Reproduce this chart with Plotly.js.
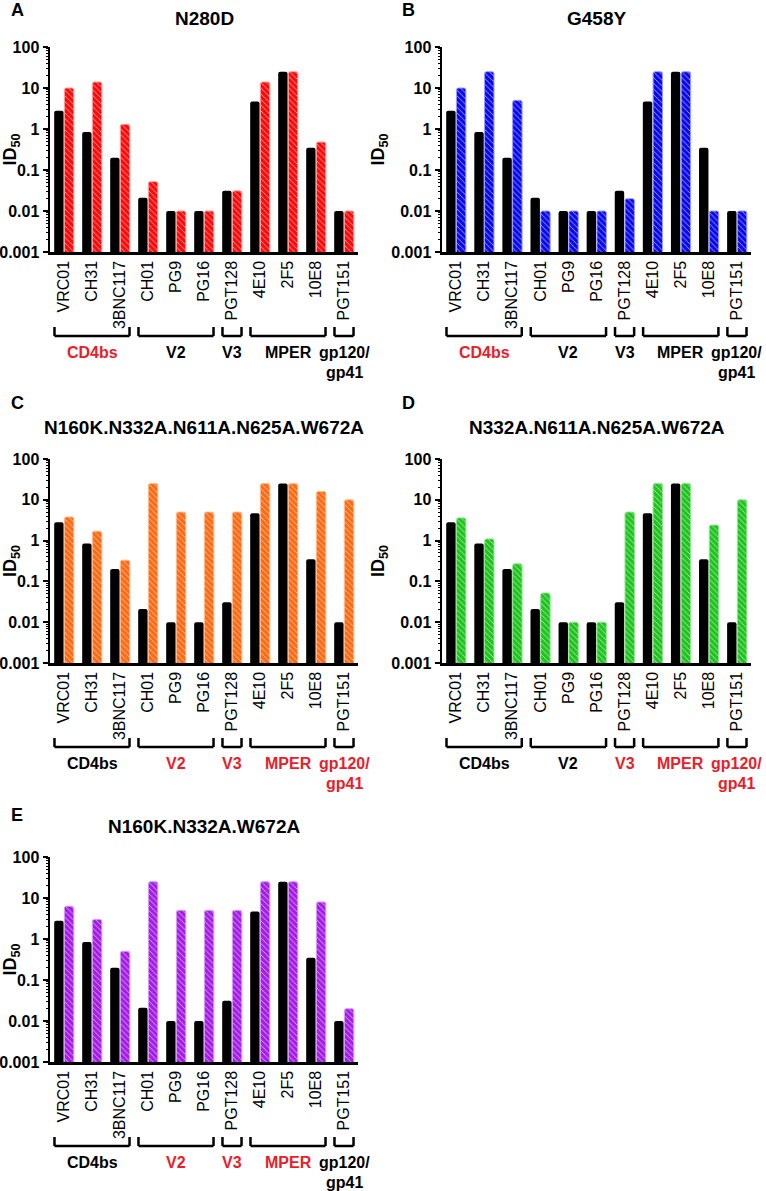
<!DOCTYPE html>
<html>
<head>
<meta charset="utf-8">
<script src="https://cdn.plot.ly/plotly-3.0.1.min.js"></script>
<style>html,body{margin:0;padding:0;background:#fff;}#chart{width:766px;height:1191px;}</style>
</head>
<body>
<div id="chart"></div>
<script>
// ---------- data ----------
const categories = ["VRC01","CH31","3BNC117","CH01","PG9","PG16","PGT128","4E10","2F5","10E8","PGT151"];
const wildTypeID50 = [2.8, 0.85, 0.2, 0.021, 0.01, 0.01, 0.031, 4.7, 25, 0.35, 0.01];
const mutantN280D = [10, 14, 1.3, 0.052, 0.01, 0.01, 0.031, 14, 25, 0.48, 0.01];
const mutantG458Y = [10, 25, 5, 0.01, 0.01, 0.01, 0.02, 25, 25, 0.01, 0.01];
const mutantC = [3.8, 1.7, 0.33, 25, 5, 5, 5, 25, 25, 16, 10];
const mutantD = [3.6, 1.1, 0.27, 0.052, 0.01, 0.01, 5, 25, 25, 2.4, 10];
const mutantE = [6.3, 3.0, 0.5, 25, 5, 5, 5, 25, 25, 8, 0.02];
const panelTitles = ["N280D","G458Y","N160K.N332A.N611A.N625A.W672A","N332A.N611A.N625A.W672A","N160K.N332A.W672A"];
const panelLetters = ["A","B","C","D","E"];
const groupNames = ["CD4bs","V2","V3","MPER","gp120/<br>gp41"];
const groupFirst = [0, 3, 6, 7, 10];
const groupLast = [2, 5, 6, 9, 10];
const groupHighlighted = [[1,0,0,0,0],[1,0,0,0,0],[0,1,1,1,1],[0,0,1,1,1],[0,1,1,1,0]];

const mutantSeries = [mutantN280D, mutantG458Y, mutantC, mutantD, mutantE];

// ---------- styles / layout ----------
const W = 766, H = 1191;
const FONT = "Liberation Sans, Arial, sans-serif";
const fillColors = ["#ff0a0a","#0a0af0","#ff6a14","#1fc41f","#a41ee8"];
const edgeColors = ["#ff9a9a","#9a9aff","#ffb88a","#8fe48f","#d79af5"];
const RED = "#e8202a";
const panels = [
  {x0:50,  x1:358, yTop:47,  yBot:252, titleY:18,  letterY:10},
  {x0:442, x1:751, yTop:47,  yBot:252, titleY:18,  letterY:10},
  {x0:50,  x1:358, yTop:459, yBot:663, titleY:427, letterY:403},
  {x0:442, x1:751, yTop:459, yBot:663, titleY:427, letterY:403},
  {x0:50,  x1:358, yTop:857, yBot:1062,titleY:826, letterY:815}
];
const px = x => x / W;
const py = y => 1 - y / H;

// minor tick positions on the log axis (2..9 in every decade)
const minorTicks = [];
for (let d = -3; d < 2; d++) for (let k = 2; k <= 9; k++) minorTicks.push(k * Math.pow(10, d));

const traces = [];
const layout = {
  width: W, height: H,
  margin: {l:0, r:0, t:0, b:0},
  paper_bgcolor: "#fff", plot_bgcolor: "#fff",
  showlegend: false,
  barmode: "group",
  bargap: 0.27,
  bargroupgap: 0.08,
  barcornerradius: 2,
  font: {family: FONT, color: "#000"},
  annotations: [],
  shapes: []
};

panels.forEach((p, i) => {
  const n = i === 0 ? "" : String(i + 1);
  const xa = "x" + n, ya = "y" + n;
  const mIdx = String(i + 6);
  traces.push({
    type: "bar", x: categories, y: wildTypeID50, xaxis: xa, yaxis: ya,
    marker: {color: "#000", line: {color: "#000", width: 0}},
    hoverinfo: "x+y"
  });
  traces.push({
    type: "bar", x: categories, y: mutantSeries[i], xaxis: xa, yaxis: ya,
    marker: {
      color: fillColors[i],
      line: {color: edgeColors[i], width: 1},
      pattern: {shape: "\\", fgcolor: "#ffffff", bgcolor: fillColors[i], size: 4, solidity: 0.15, fillmode: "replace"}
    },
    hoverinfo: "x+y"
  });
  // invisible trace that carries the minor-tick overlay axis
  traces.push({
    type: "scatter", mode: "markers", x: categories, y: wildTypeID50, xaxis: xa, yaxis: "y" + mIdx,
    marker: {opacity: 0, size: 1}, hoverinfo: "skip"
  });
  layout["xaxis" + n] = {
    domain: [px(p.x0), px(p.x1)], anchor: ya, type: "category",
    range: [-0.5, 10.5], showline: true, linecolor: "#000", linewidth: 2.5,
    ticks: "", showgrid: false, zeroline: false, tickangle: -90,
    tickfont: {family: FONT, size: 16, color: "#000"}, fixedrange: true
  };
  layout["yaxis" + n] = {
    domain: [py(p.yBot), py(p.yTop)], anchor: xa, type: "log",
    range: [-3, 2], tickmode: "linear", tick0: 0, dtick: 1, exponentformat: "none",
    ticks: "outside", ticklen: 5, tickwidth: 2, tickcolor: "#000",
    showline: true, linecolor: "#000", linewidth: 2.5, showgrid: false, zeroline: false,
    tickfont: {family: FONT, size: 16, weight: "bold", color: "#000"},
    title: {text: "ID<sub>50</sub>", font: {family: FONT, size: 18, weight: "bold", color: "#000"}, standoff: 2},
    fixedrange: true
  };
  layout["yaxis" + mIdx] = {
    overlaying: ya, anchor: xa, side: "left", type: "log", range: [-3, 2],
    tickmode: "array", tickvals: minorTicks, showticklabels: false,
    ticks: "outside", ticklen: 3, tickwidth: 1, tickcolor: "#000",
    showline: false, showgrid: false, zeroline: false, fixedrange: true
  };
  // panel title and letter
  layout.annotations.push({
    xref: "paper", yref: "paper", x: px((p.x0 + p.x1) / 2), y: py(p.titleY),
    text: panelTitles[i], showarrow: false, xanchor: "center", yanchor: "middle",
    font: {family: FONT, size: 19, weight: "bold", color: "#000"}
  });
  layout.annotations.push({
    xref: "paper", yref: "paper", x: px(p.x0 - 33), y: py(p.letterY),
    text: panelLetters[i], showarrow: false, xanchor: "center", yanchor: "middle",
    font: {family: FONT, size: 18, weight: "bold", color: "#000"}
  });
  // epitope brackets and labels
  groupNames.forEach((g, k) => {
    const a = groupFirst[k] - 0.34, b = groupLast[k] + 0.34;
    const yl = py(p.yBot + 84), yt = py(p.yBot + 75);
    const ln = {color: "#000", width: 2.5};
    layout.shapes.push({type: "line", xref: xa, yref: "paper", x0: a, x1: b, y0: yl, y1: yl, line: ln});
    layout.shapes.push({type: "line", xref: xa, yref: "paper", x0: a, x1: a, y0: yl, y1: yt, line: ln});
    layout.shapes.push({type: "line", xref: xa, yref: "paper", x0: b, x1: b, y0: yl, y1: yt, line: ln});
    g.split("<br>").forEach((part, j) => {
      layout.annotations.push({
        xref: xa, yref: "paper", x: (groupFirst[k] + groupLast[k]) / 2, y: py(p.yBot + 100 + 20 * j),
        text: part, showarrow: false, xanchor: "center", yanchor: "middle", align: "center",
        font: {family: FONT, size: 16, weight: "bold", color: groupHighlighted[i][k] ? RED : "#000"}
      });
    });
  });
});

Plotly.newPlot("chart", traces, layout, {staticPlot: true, displayModeBar: false});
</script>
</body>
</html>
